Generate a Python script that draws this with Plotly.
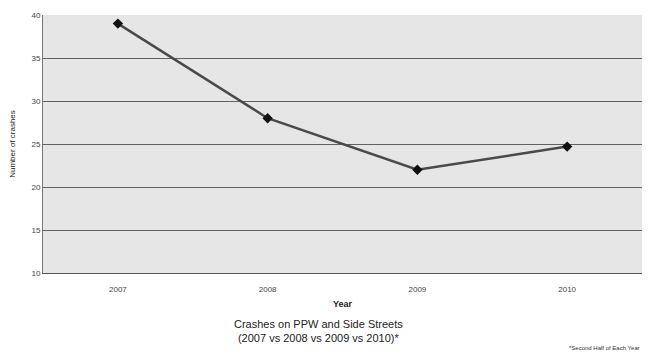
import plotly.graph_objects as go

years = ["2007", "2008", "2009", "2010"]
crashes = [39, 28, 22, 24.7]
y_ticks = [10, 15, 20, 25, 30, 35, 40]

fig = go.Figure()
fig.add_trace(go.Scatter(
    x=years, y=crashes, mode="lines+markers",
    line=dict(color="#4a4a4a", width=2.5),
    marker=dict(symbol="diamond", size=8, color="#111111"),
    showlegend=False,
))

fig.update_layout(
    width=654, height=356,
    margin=dict(l=43, r=12, t=11, b=83),
    paper_bgcolor="white",
    plot_bgcolor="#e6e6e6",
    font=dict(family="Liberation Sans, Arial, sans-serif", color="#333333"),
    xaxis=dict(
        type="category", range=[-0.5, 3.5], showgrid=False, zeroline=False,
        tickfont=dict(size=8, color="#444444"),
        ticklabelstandoff=8,
        title=dict(text="<b>Year</b>", font=dict(size=9, color="#222222"), standoff=8),
        showline=True, linecolor="#555555", linewidth=1,
        ticks="",
    ),
    yaxis=dict(
        range=[10, 40], tickvals=y_ticks,
        showgrid=True, gridcolor="#626262", gridwidth=1,
        zeroline=False,
        tickfont=dict(size=8, color="#444444"),
        title=dict(text="Number of crashes", font=dict(size=8, color="#222222"), standoff=14),
        showline=True, linecolor="#777777", linewidth=1,
        ticks="",
    ),
    annotations=[
        dict(text="Crashes on PPW and Side Streets<br>(2007 vs 2008 vs 2009 vs 2010)*",
             x=0.46, y=-0.165, xref="paper", yref="paper", xanchor="center", yanchor="top",
             showarrow=False, font=dict(size=11, color="#222222")),
        dict(text="*Second Half of Each Year",
             x=1.0, y=-0.27, xref="paper", yref="paper", xanchor="right", yanchor="top",
             showarrow=False, font=dict(size=6, color="#333333")),
    ],
)

fig.write_html("out.html")
